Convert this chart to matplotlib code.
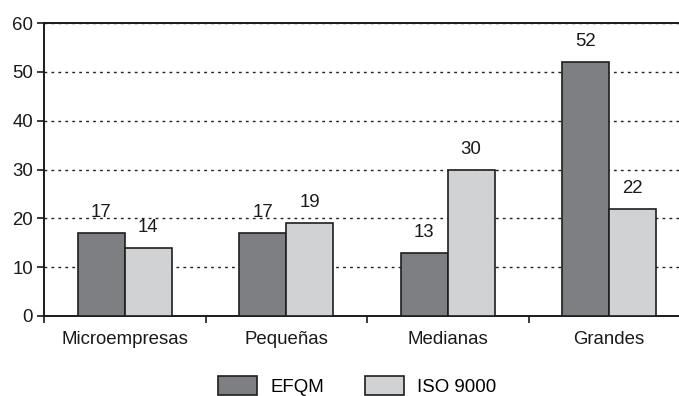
import matplotlib
matplotlib.use("Agg")
import matplotlib.pyplot as plt
import numpy as np

categories = ["Microempresas", "Pequeñas", "Medianas", "Grandes"]
efqm = [17, 17, 13, 52]
iso9000 = [14, 19, 30, 22]
series_names = ["EFQM", "ISO 9000"]
yticks = [0, 10, 20, 30, 40, 50, 60]

plt.rcParams["font.family"] = ["Liberation Sans", "DejaVu Sans"]
fs = 13.4
plt.rcParams["font.size"] = fs

W, H = 679, 396
fig = plt.figure(figsize=(W / 100, H / 100), dpi=100)
ax = fig.add_axes([44 / W, 1 - 316 / H, (690 - 44) / W, (316 - 23) / H])

x = np.arange(len(categories))
bw = 0.29
dark = "#7e7f83"
light = "#d1d2d4"
edge = "#1e1e1e"

b1 = ax.bar(x - bw / 2, efqm, bw, color=dark, edgecolor=edge, linewidth=1.2,
            label=series_names[0], zorder=3)
b2 = ax.bar(x + bw / 2, iso9000, bw, color=light, edgecolor=edge, linewidth=1.2,
            label=series_names[1], zorder=3)

for bars, vals in ((b1, efqm), (b2, iso9000)):
    for r, v in zip(bars, vals):
        ax.annotate(f"{v}", (r.get_x() + r.get_width() / 2, v),
                    xytext=(0, 8.5), textcoords="offset points",
                    ha="center", va="bottom", fontsize=fs, color="#1a1a1a")

ax.set_xlim(-0.5, len(categories) - 0.5)
ax.set_ylim(0, 60)
ax.set_yticks(yticks)
ax.yaxis.grid(True, linestyle=(0, (2, 3)), color="#222222", linewidth=1.0, zorder=0)
ax.tick_params(axis="y", length=5, width=1.2, pad=3, colors="#1a1a1a")

# category boundaries carry tick marks, names sit at centres
ax.set_xticks(np.arange(len(categories) + 1) - 0.5)
ax.set_xticklabels([])
ax.set_xticks(x, minor=True)
ax.set_xticklabels(categories, minor=True)
ax.tick_params(axis="x", which="major", length=5, width=1.2, color="#1a1a1a")
ax.tick_params(axis="x", which="minor", length=0, pad=11, labelcolor="#1a1a1a")

for s in ("left", "bottom", "top", "right"):
    ax.spines[s].set_linewidth(1.4)
    ax.spines[s].set_color("#1a1a1a")

fig.legend(handles=[b1, b2], labels=series_names, ncol=2, frameon=False,
           loc="upper left", bbox_to_anchor=(209 / W, 1 - 367 / H),
           borderpad=0, handlelength=2.1, handleheight=1.2, handletextpad=0.7,
           columnspacing=2.2, fontsize=fs)

fig.savefig("out.png", dpi=100)
